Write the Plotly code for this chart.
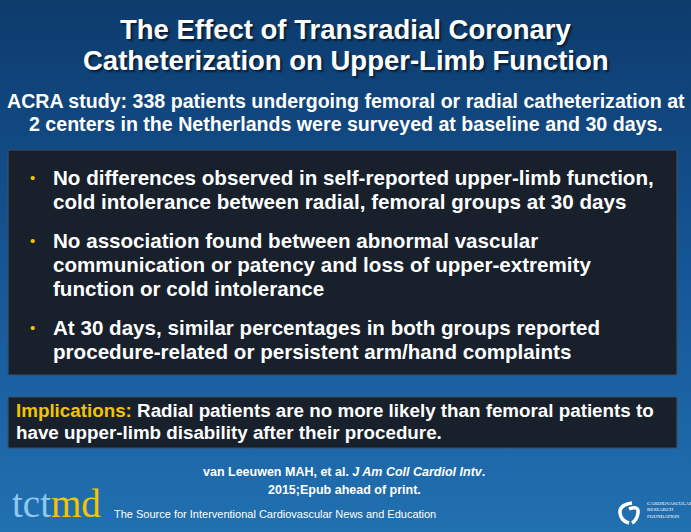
import plotly.graph_objects as go

# ---------------- content ----------------
title_lines = ["The Effect of Transradial Coronary",
               "Catheterization on Upper-Limb Function"]
subtitle_lines = ["ACRA study: 338 patients undergoing femoral or radial catheterization at",
                  "2 centers in the Netherlands were surveyed at baseline and 30 days."]
bullet_1 = ["No differences observed in self-reported upper-limb function,",
            "cold intolerance between radial, femoral groups at 30 days"]
bullet_2 = ["No association found between abnormal vascular",
            "communication or patency and loss of upper-extremity",
            "function or cold intolerance"]
bullet_3 = ["At 30 days, similar percentages in both groups reported",
            "procedure-related or persistent arm/hand complaints"]
implication_label = "Implications:"
implication_lines = ["Radial patients are no more likely than femoral patients to",
                     "have upper-limb disability after their procedure."]
citation_authors = "van Leeuwen MAH, et al."
citation_journal = "J Am Coll Cardiol Intv"
citation_line2 = "2015;Epub ahead of print."
logo_left = ["tct", "md"]
tagline = "The Source for Interventional Cardiovascular News and Education"
crf_lines = ["CARDIOVASCULAR", "RESEARCH", "FOUNDATION"]

W, H = 691, 532
SANS = "Liberation Sans, Arial, sans-serif"
SERIF = "Liberation Serif, Times New Roman, serif"
YELLOW = "#f4c400"

fig = go.Figure()

# ---------------- background ----------------
fig.add_trace(go.Scatter(
    x=[0, W, W, 0, 0], y=[0, 0, H, H, 0], mode="none", fill="toself",
    fillgradient=dict(type="vertical",
                      colorscale=[[0, "#2170b0"], [0.45, "#16589a"], [1, "#0d3b6c"]]),
    hoverinfo="skip", showlegend=False))

shapes = []
# darker diagonal band on the right half
shapes.append(dict(type="path", path=f"M 250 0 L {W} 0 L {W} {H} L 430 {H} Z",
                   fillcolor="rgba(0,30,90,0.25)", line=dict(width=0), layer="below"))
# lighter glow at the right edge top
shapes.append(dict(type="path", path=f"M 600 0 L {W} 0 L {W} 260 Z",
                   fillcolor="rgba(120,180,230,0.13)", line=dict(width=0), layer="below"))
# lighter triangle bottom-right
shapes.append(dict(type="path", path=f"M 645 {H} L {W} 468 L {W} {H} Z",
                   fillcolor="rgba(90,150,205,0.55)", line=dict(width=0), layer="below"))

# dark boxes
shapes.append(dict(type="rect", x0=8, x1=677, y0=150, y1=375,
                   fillcolor="#17202b", line=dict(color="#3a5068", width=1.2)))
shapes.append(dict(type="rect", x0=8, x1=677, y0=397, y1=448,
                   fillcolor="#17202b", line=dict(color="#3a5068", width=1.2)))

# CRF logo mark
shapes.append(dict(type="path",
                   path="M 632 503 Q 619 505 620 513 Q 621 521 629 523",
                   line=dict(color="white", width=3.5), fillcolor="rgba(0,0,0,0)"))
shapes.append(dict(type="path",
                   path="M 629 509 Q 639 505 638 513 Q 637 520 632 523",
                   line=dict(color="white", width=3.5), fillcolor="rgba(0,0,0,0)"))

ann = []

def txt(x, y, s, size, color="white", bold=True, xanchor="center", family=SANS,
        yanchor="middle", shadow=None):
    f = dict(size=size, color=color, family=family)
    if shadow:
        f["shadow"] = shadow
    ann.append(dict(x=x, y=y, xref="x", yref="y", text=(f"<b>{s}</b>" if bold else s),
                    showarrow=False, xanchor=xanchor, yanchor=yanchor, font=f))

# title with shadow
for i, line in enumerate(title_lines):
    txt(346, 29 + i * 31.5, line, 27.5, shadow="2px 2px 2px rgba(0,0,0,0.55)")

for i, line in enumerate(subtitle_lines):
    txt(346, 101 + i * 23, line, 19.6)

# bullets
y = 177
for block in [bullet_1, bullet_2, bullet_3]:
    txt(32, y, "•", 15, color=YELLOW, bold=False)
    for j, line in enumerate(block):
        txt(51, y + j * 24, line, 20.6, xanchor="left")
    y += len(block) * 24 + 15

# implications
txt(14, 410, f'<span style="color:{YELLOW}">{implication_label}</span> {implication_lines[0]}',
    18.8, xanchor="left")
txt(14, 432, implication_lines[1], 18.8, xanchor="left")

# citation
ann.append(dict(x=344, y=472, xref="x", yref="y", showarrow=False,
                text=f"<b>{citation_authors} <i>{citation_journal}</i>.</b>",
                font=dict(size=12.5, color="white", family=SANS)))
txt(344, 490, citation_line2, 12.5)

# tctmd logo
ann.append(dict(x=10, y=527, xref="x", yref="y", showarrow=False, xanchor="left",
                yanchor="bottom",
                text=f'<span style="color:#8fc8ee">{logo_left[0]}</span>'
                     f'<span style="color:{YELLOW}">{logo_left[1]}</span>',
                font=dict(size=39, family=SERIF)))
txt(112, 514, tagline, 11, bold=False, xanchor="left")

# CRF text
for i, line in enumerate(crf_lines):
    txt(645, 503 + i * 6.5, line, 5, bold=False, xanchor="left", family=SERIF)

fig.update_layout(
    width=W, height=H, margin=dict(l=0, r=0, t=0, b=0),
    paper_bgcolor="#134f8c", plot_bgcolor="rgba(0,0,0,0)",
    xaxis=dict(range=[0, W], visible=False, fixedrange=True),
    yaxis=dict(range=[H, 0], visible=False, fixedrange=True),
    shapes=shapes, annotations=ann, showlegend=False)

fig.write_html("out.html", config={"displayModeBar": False},
               post_script="document.body.style.margin='0';")
